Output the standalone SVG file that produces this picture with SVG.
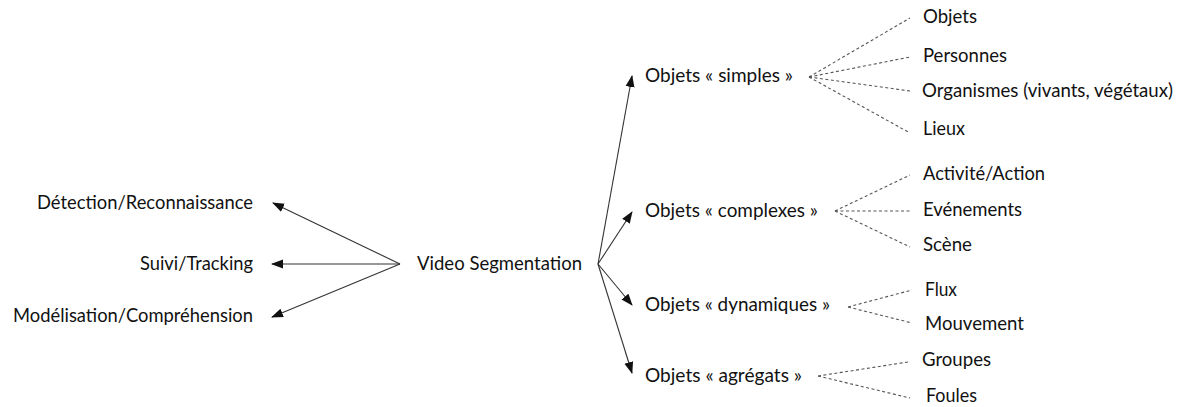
<svg xmlns="http://www.w3.org/2000/svg" width="1184" height="407" viewBox="0 0 1184 407">
<style>
text{font-family:Lato,"Liberation Sans",sans-serif;font-size:20px;fill:#111}
.a{stroke:#333;stroke-width:1.1;fill:none;marker-end:url(#ah)}
.d{stroke:#555;stroke-width:1.1;fill:none;stroke-dasharray:3,2.5}
</style>
<defs>
<marker id="ah" markerUnits="userSpaceOnUse" markerWidth="12" markerHeight="10" refX="11" refY="4.5" orient="auto" viewBox="0 0 12 9">
<path d="M0,0 L12,4.5 L0,9 z" fill="#111"/>
</marker>
</defs>
<rect width="1184" height="407" fill="#fff"/>
<g id="connectors">
<line class="a" x1="400" y1="264" x2="273" y2="203"/>
<line class="a" x1="400" y1="264" x2="272" y2="264"/>
<line class="a" x1="400" y1="264" x2="272" y2="317"/>
<line class="a" x1="598" y1="264" x2="632" y2="76"/>
<line class="a" x1="598" y1="264" x2="632" y2="212"/>
<line class="a" x1="598" y1="264" x2="632" y2="305"/>
<line class="a" x1="598" y1="264" x2="632" y2="373"/>
<line class="d" x1="809" y1="77" x2="910" y2="18"/>
<line class="d" x1="809" y1="77" x2="910" y2="57"/>
<line class="d" x1="809" y1="77" x2="910" y2="91"/>
<line class="d" x1="809" y1="77" x2="910" y2="133"/>
<line class="d" x1="835" y1="211" x2="910" y2="175"/>
<line class="d" x1="835" y1="211" x2="910" y2="211"/>
<line class="d" x1="835" y1="211" x2="910" y2="247"/>
<line class="d" x1="848" y1="307" x2="912" y2="290"/>
<line class="d" x1="848" y1="307" x2="912" y2="323"/>
<line class="d" x1="818" y1="376" x2="908" y2="362"/>
<line class="d" x1="818" y1="376" x2="910" y2="398"/>
</g>
<g id="n-detection"><text x="37" y="209" textLength="216" lengthAdjust="spacingAndGlyphs">Détection/Reconnaissance</text></g>
<g id="n-suivi"><text x="140" y="270" textLength="113" lengthAdjust="spacingAndGlyphs">Suivi/Tracking</text></g>
<g id="n-modelisation"><text x="13" y="322" textLength="240" lengthAdjust="spacingAndGlyphs">Modélisation/Compréhension</text></g>
<g id="n-video"><text x="417" y="270" textLength="165" lengthAdjust="spacingAndGlyphs">Video Segmentation</text></g>
<g id="n-simples"><text x="645" y="82" textLength="148" lengthAdjust="spacingAndGlyphs">Objets « simples »</text></g>
<g id="n-complexes"><text x="645" y="217" textLength="173" lengthAdjust="spacingAndGlyphs">Objets « complexes »</text></g>
<g id="n-dynamiques"><text x="645" y="311" textLength="185" lengthAdjust="spacingAndGlyphs">Objets « dynamiques »</text></g>
<g id="n-agregats"><text x="645" y="382" textLength="157" lengthAdjust="spacingAndGlyphs">Objets « agrégats »</text></g>
<g id="n-objets"><text x="923" y="23" textLength="54" lengthAdjust="spacingAndGlyphs">Objets</text></g>
<g id="n-personnes"><text x="923" y="62" textLength="84" lengthAdjust="spacingAndGlyphs">Personnes</text></g>
<g id="n-organismes"><text x="922" y="97" style="font-size:19px" textLength="251" lengthAdjust="spacingAndGlyphs">Organismes (vivants, végétaux)</text></g>
<g id="n-lieux"><text x="923" y="135" textLength="42" lengthAdjust="spacingAndGlyphs">Lieux</text></g>
<g id="n-activite"><text x="923" y="180" textLength="122" lengthAdjust="spacingAndGlyphs">Activité/Action</text></g>
<g id="n-evenements"><text x="923" y="216" textLength="99" lengthAdjust="spacingAndGlyphs">Evénements</text></g>
<g id="n-scene"><text x="923" y="251" textLength="49" lengthAdjust="spacingAndGlyphs">Scène</text></g>
<g id="n-flux"><text x="925" y="296" textLength="32" lengthAdjust="spacingAndGlyphs">Flux</text></g>
<g id="n-mouvement"><text x="925" y="330" textLength="99" lengthAdjust="spacingAndGlyphs">Mouvement</text></g>
<g id="n-groupes"><text x="922" y="366" textLength="69" lengthAdjust="spacingAndGlyphs">Groupes</text></g>
<g id="n-foules"><text x="926" y="402" textLength="51" lengthAdjust="spacingAndGlyphs">Foules</text></g>
</svg>
